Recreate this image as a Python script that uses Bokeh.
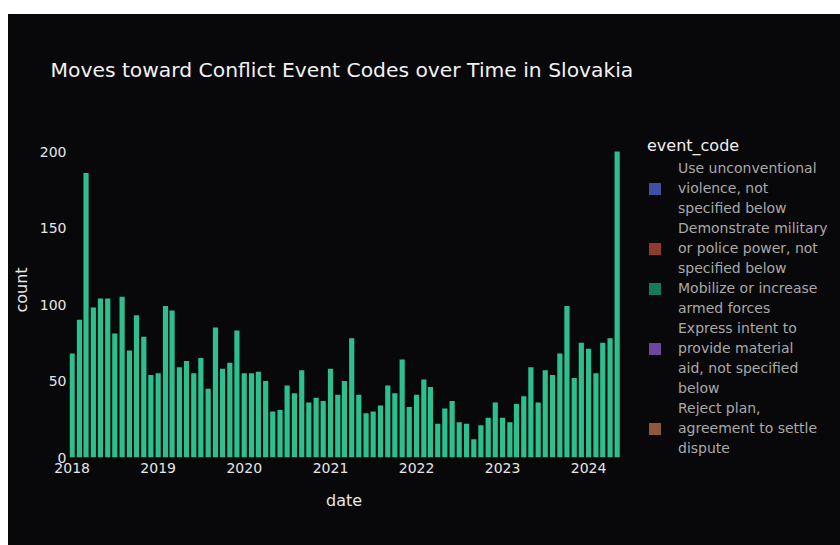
import pandas as pd
from bokeh.plotting import figure
from bokeh.models import (Range1d, FixedTicker, DatetimeTickFormatter, Legend,
                          LegendItem, ColumnDataSource, Spacer, Title)
from bokeh.layouts import column, row
from bokeh.embed import file_html
from bokeh.resources import INLINE

# ---- data ----
start_month = "2018-01-01"
counts = [68, 90, 186, 98, 104, 104, 81, 105, 70, 93, 79, 54,
          55, 99, 96, 59, 63, 55, 65, 45, 85, 58, 62, 83,
          55, 55, 56, 50, 30, 31, 47, 42, 57, 36, 39, 37,
          58, 41, 50, 78, 41, 29, 30, 34, 47, 42, 64, 33,
          41, 51, 46, 22, 32, 37, 23, 22, 12, 21, 26, 36,
          26, 23, 35, 40, 59, 36, 57, 54, 68, 99, 52, 75,
          71, 55, 75, 78, 200]
event_codes = ["Use unconventional\nviolence, not\nspecified below",
               "Demonstrate military\nor police power, not\nspecified below",
               "Mobilize or increase\narmed forces",
               "Express intent to\nprovide material\naid, not specified\nbelow",
               "Reject plan,\nagreement to settle\ndispute"]
legend_colors = ["#3f4fa3", "#8c3b2e", "#137a5c", "#6b48a0", "#8b5a3a"]
year_ticks = [2018, 2019, 2020, 2021, 2022, 2023, 2024]
y_ticks = [0, 50, 100, 150, 200]

# ---- layout constants (pixels) ----
W, H = 832, 531
LEFT, BOTTOM, TOP = 60, 88, 108
DATA_PX = 551.0                # width of the bar area inside the frame
FRAME_PX = W - LEFT            # frame reaches the right edge; legend sits in it
PX_PER_COUNT = 1.53

dates = pd.date_range(start_month, periods=len(counts), freq="MS")
bg = "#08080a"
bar_w_days = 22.0
half = pd.Timedelta(days=11.2)
x0 = dates[0] - half
x1_data = dates[-1] + half
x1 = x0 + (x1_data - x0) * (FRAME_PX / DATA_PX)
y1 = (H - BOTTOM - TOP) / PX_PER_COUNT

p = figure(width=W, height=H, x_axis_type="datetime",
           x_range=Range1d(x0, x1), y_range=Range1d(0, y1),
           output_backend="svg", toolbar_location=None,
           min_border_left=LEFT, min_border_right=0,
           min_border_top=TOP, min_border_bottom=BOTTOM,
           background_fill_color=bg, border_fill_color=bg,
           styles={"background-color": bg})
p.outline_line_color = None

src = ColumnDataSource(dict(x=dates, top=counts))
bars = p.vbar(x="x", top="top", source=src, width=bar_w_days * 86400000,
              fill_color="#2ebf8f", line_color=None)

# legend swatches (zero-height bars: these codes have no events)
swatches = []
for i, code in enumerate(event_codes):
    sw = p.vbar(x=[dates[0]], top=[0], width=1, fill_color=legend_colors[i],
                line_color=None)
    swatches.append(sw)
blank = p.vbar(x=[dates[0]], top=[0], width=1, fill_alpha=0, line_alpha=0)

items = []
for i, code in enumerate(event_codes):
    lines = code.split("\n")
    g = (len(lines) - 1) // 2
    for j, ln in enumerate(lines):
        rs = [swatches[i]] if j == g else [blank]
        items.append(LegendItem(label=ln, renderers=rs))

# title
p.title.text = "Moves toward Conflict Event Codes over Time in Slovakia"
p.title.align = "left"
p.title.offset = -19
p.title.standoff = 82
p.title.text_font = "DejaVu Sans"
p.title.text_font_size = "20.3px"
p.title.text_font_style = "normal"
p.title.text_color = "#f2f2f2"

# axes
tick_color = "#e6e6e6"
for ax in (p.xaxis[0], p.yaxis[0]):
    ax.axis_line_color = None
    ax.major_tick_line_color = None
    ax.minor_tick_line_color = None
    ax.major_tick_out = 0
    ax.major_tick_in = 0
    ax.minor_tick_out = 0
    ax.minor_tick_in = 0
    ax.major_label_text_font = "DejaVu Sans"
    ax.major_label_text_font_size = "14px"
    ax.major_label_text_color = tick_color
    ax.axis_label_text_font = "DejaVu Sans"
    ax.axis_label_text_font_size = "16px"
    ax.axis_label_text_font_style = "normal"
    ax.axis_label_text_color = tick_color

p.yaxis.axis_label = "count"
p.xaxis.ticker = FixedTicker(ticks=[pd.Timestamp(f"{y}-01-01").value / 1e6 for y in year_ticks])
p.xaxis.formatter = DatetimeTickFormatter(years="%Y", months="%Y", days="%Y",
                                          hours="%Y", minutes="%Y", seconds="%Y",
                                          milliseconds="%Y", microseconds="%Y")
p.yaxis.ticker = FixedTicker(ticks=y_ticks)
p.xaxis.major_label_standoff = 5
p.yaxis.major_label_standoff = 3
p.yaxis.axis_label_standoff = 6
p.xgrid.visible = False
p.ygrid.visible = False

# x-axis title centred under the bar area
date_title = Title(text="date", align="left", offset=256.5, standoff=27,
                   text_font="DejaVu Sans", text_font_size="16px",
                   text_font_style="normal", text_color=tick_color)
p.add_layout(date_title, "below")

legend = Legend(items=items, location=(578, -1), title="event_code",
                margin=0, padding=0, spacing=0, label_height=20,
                glyph_width=15, glyph_height=15, label_standoff=16,
                label_text_font="DejaVu Sans", label_text_font_size="14px",
                label_text_color="#a8a8a8",
                title_text_font="DejaVu Sans", title_text_font_size="16px",
                title_text_font_style="normal", title_text_color="#f0f0f0",
                title_standoff=3,
                background_fill_alpha=0, border_line_color=None)
p.add_layout(legend)

layout = column(Spacer(height=14, width=840),
                row(Spacer(width=8, height=H), p))
open("out.html", "w").write(file_html(layout, INLINE))
